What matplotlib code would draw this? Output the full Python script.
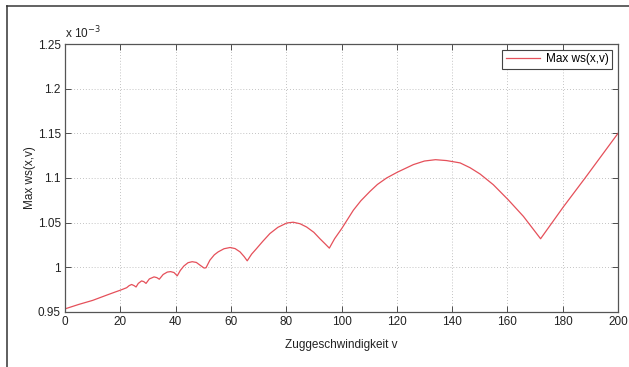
import matplotlib
matplotlib.use('Agg')
import matplotlib.pyplot as plt
from matplotlib.lines import Line2D
from matplotlib.ticker import FuncFormatter

# values, y in units of 1e-3
v = [0, 5, 10, 15, 18, 20, 21, 22.3, 23.2, 24.1, 25.0, 25.7, 26.5, 27.7,
     28.5, 29.3, 30.5, 32.2, 33.2, 34.1, 35.5, 37.0, 38.2, 39.4, 40.6, 41.7,
     43.0, 44.5, 46.0, 47.5, 48.8, 50.3, 51.0, 52.4, 54.0, 55.4, 57.5, 59.7,
     61.5, 63.3, 64.8, 65.9, 67.5, 69.3, 71.5, 74.1, 77.0, 80.2, 82.5, 85.0,
     87.4, 90.0, 92.2, 94.0, 95.6, 97.5, 100.1, 104.3, 107, 110.3, 113,
     116.3, 120.2, 126, 130, 134, 138, 142.9, 146.5, 150.1, 154.9, 160.3,
     165.8, 172, 180.2, 188.1, 200]
ws_max = [0.9535, 0.9585, 0.9630, 0.9688, 0.9722, 0.9744, 0.9756, 0.9772,
          0.9795, 0.9808, 0.9795, 0.9780, 0.9820, 0.9848, 0.9840, 0.9820,
          0.9870, 0.9893, 0.9885, 0.9867, 0.9920, 0.9947, 0.9952, 0.9942,
          0.9905, 0.9965, 1.0015, 1.0052, 1.0063, 1.0055, 1.0025, 0.9992,
          0.9995, 1.0080, 1.0140, 1.0173, 1.0208, 1.0222, 1.0210, 1.0173,
          1.0120, 1.0073, 1.0148, 1.0211, 1.0290, 1.0378, 1.0448, 1.0496,
          1.0505, 1.0488, 1.0451, 1.0392, 1.0320, 1.0265, 1.0215, 1.0320,
          1.0435, 1.0640, 1.0745, 1.0850, 1.0928, 1.1000, 1.1065, 1.1150,
          1.1190, 1.1205, 1.1195, 1.1169, 1.1115, 1.1045, 1.0925, 1.0756,
          1.0570, 1.0320, 1.0675, 1.1000, 1.1500]
ws_max = [y * 1e-3 for y in ws_max]

x_ticks = [0, 20, 40, 60, 80, 100, 120, 140, 160, 180, 200]
y_ticks = [0.95e-3, 1.0e-3, 1.05e-3, 1.1e-3, 1.15e-3, 1.2e-3, 1.25e-3]

plt.rcParams['font.family'] = ['Liberation Sans', 'DejaVu Sans']
plt.rcParams['font.size'] = 8.5

fig = plt.figure(figsize=(6.29, 3.67), dpi=100)
ax = fig.add_axes([65 / 629, 1 - 312 / 367, 553 / 629, 268 / 367])

ax.plot(v, ws_max, color='#e5505a', lw=0.9, label='Max ws(x,v)')

ax.set_xlim(0, 200)
ax.set_ylim(0.95e-3, 1.25e-3)
ax.set_xticks(x_ticks)
ax.set_yticks(y_ticks)
ax.yaxis.set_major_formatter(FuncFormatter(lambda y, pos: '%g' % round(y * 1e3, 4)))
ax.tick_params(direction='in', length=4, width=0.6, top=True, right=True,
               colors='#333333', labelcolor='#222222', pad=3)
for s in ax.spines.values():
    s.set_color('#555555')
    s.set_linewidth(0.9)

ax.grid(True, linestyle=(0, (1, 2.5)), color='#b0b0b0', linewidth=0.6)

ax.set_xlabel('Zuggeschwindigkeit v', fontsize=8.5, labelpad=8, color='#222222')
ax.set_ylabel('Max ws(x,v)', fontsize=8.5, labelpad=1, color='#222222')
ax.text(0, 1.01, r'x 10$^{-3}$', transform=ax.transAxes, fontsize=8.5,
        ha='left', va='bottom', color='#222222')

leg = ax.legend(loc='upper right', fontsize=8.5, fancybox=False, framealpha=1,
                handlelength=2.9, borderpad=0.3, borderaxespad=0.5,
                handletextpad=0.5)
leg.get_frame().set_edgecolor('#444444')
leg.get_frame().set_linewidth(0.8)

# frame of the screenshot (top and left edges)
fig.add_artist(Line2D([7.3 / 629, 1], [1 - 5.7 / 367, 1 - 5.7 / 367],
                      transform=fig.transFigure, color='#555555', lw=1.3))
fig.add_artist(Line2D([7.3 / 629, 7.3 / 629], [0, 1 - 5.7 / 367],
                      transform=fig.transFigure, color='#333333', lw=1.1))

fig.savefig('out.png', dpi=100)
